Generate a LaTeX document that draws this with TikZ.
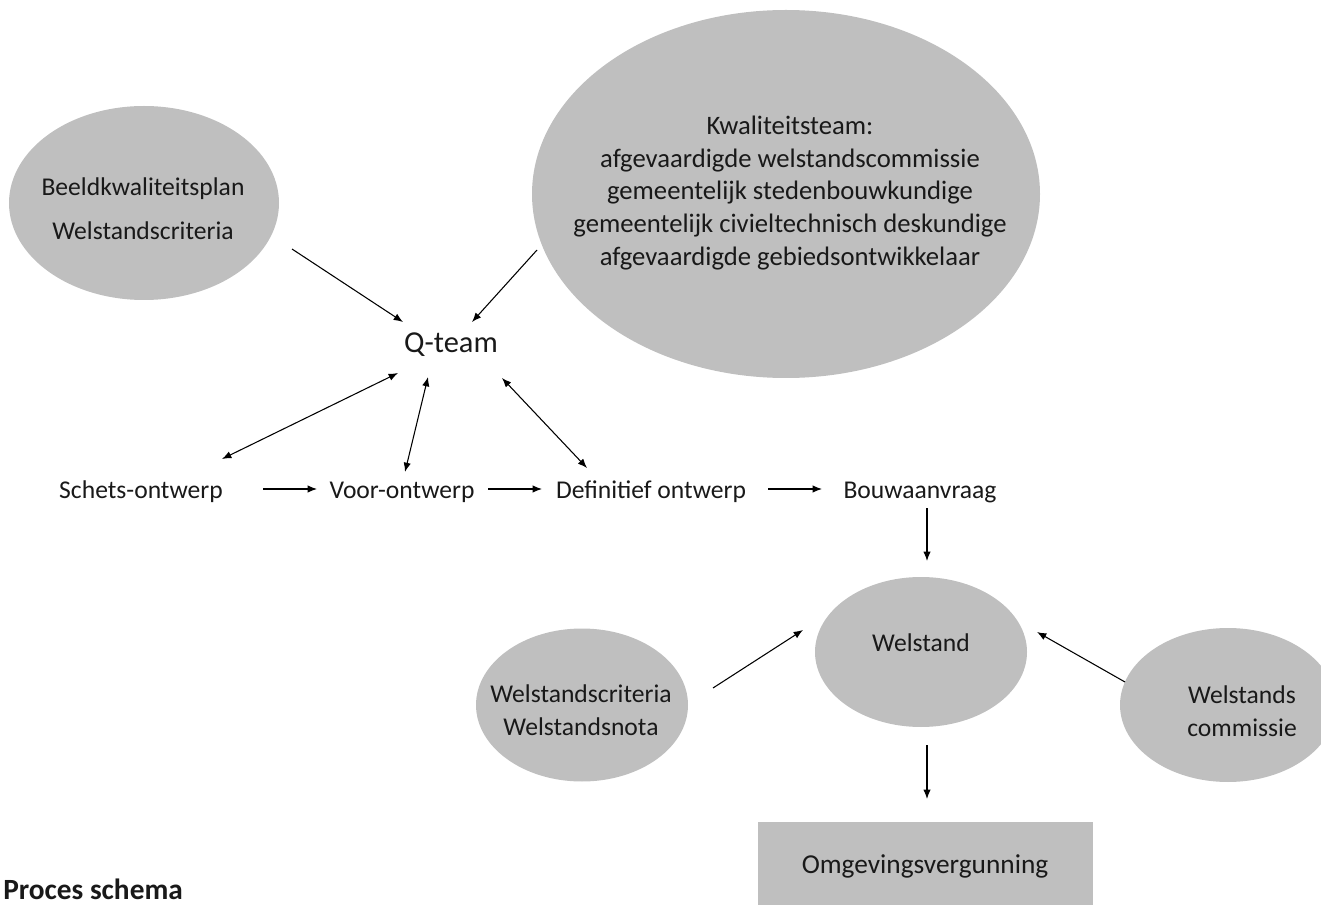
\documentclass[tikz,border=0pt]{standalone}
\usepackage{fontspec}
\setmainfont{Carlito}
\usetikzlibrary{shapes.geometric,arrows.meta}
\definecolor{fillg}{RGB}{191,191,191}
\definecolor{txt}{RGB}{25,25,25}
\begin{document}
\begin{tikzpicture}[x=0.75pt,y=-0.75pt,
  blob/.style={ellipse,fill=fillg,draw=none,inner sep=0pt},
  lbl/.style={inner sep=0pt,text=txt,font=\fontsize{19.2}{24.4}\selectfont,align=center},
  conn/.style={line width=0.8pt,-{Latex[length=7pt,width=5.5pt]}},
  biconn/.style={line width=0.8pt,{Latex[length=7pt,width=5.5pt]}-{Latex[length=7pt,width=5.5pt]}}]
\useasboundingbox (0,0) rectangle (1321,905);
\begin{scope}
\clip (0,0) rectangle (1321,905);
% shapes
\node[blob,minimum width=270pt*0.75,minimum height=194pt*0.75] (bk) at (144,203) {};
\node[blob,minimum width=508pt*0.75,minimum height=368pt*0.75] (kt) at (786,194) {};
\node[blob,minimum width=212pt*0.75,minimum height=150pt*0.75] (wel) at (921,652) {};
\node[blob,minimum width=212pt*0.75,minimum height=153pt*0.75] (wn) at (582,705) {};
\node[blob,minimum width=216pt*0.75,minimum height=154pt*0.75] (wc) at (1228,705) {};
\node[fill=fillg,inner sep=0pt,minimum width=335pt*0.75,minimum height=100pt*0.75] (omg) at (925.5,872) {};
\end{scope}
% texts
\node[lbl] (bkt) at (143,209) {Beeldkwaliteitsplan\\[0.45em]Welstandscriteria};
\node[lbl,font=\fontsize{20}{24.4}\selectfont] (ktt) at (790,193) {Kwaliteitsteam:\\afgevaardigde welstandscommissie\\gemeentelijk stedenbouwkundige\\gemeentelijk civieltechnisch deskundige\\afgevaardigde gebiedsontwikkelaar};
\node[lbl,font=\fontsize{22.8}{28}\selectfont] (q) at (451,345) {Q-team};
\node[lbl] (so) at (141,492) {Schets-ontwerp};
\node[lbl] (vo) at (402,492) {Voor-ontwerp};
\node[lbl] (do) at (651,492) {Definitief ontwerp};
\node[lbl] (ba) at (920,492) {Bouwaanvraag};
\node[lbl] (welt) at (921,643) {Welstand};
\node[lbl] (wnt) at (581,710) {Welstandscriteria\\Welstandsnota};
\node[lbl] (wct) at (1242,711) {Welstands\\commissie};
\node[lbl,font=\fontsize{20.5}{24}\selectfont] (omgt) at (925,866) {Omgevingsvergunning};
\node[inner sep=0pt,anchor=west,text=txt,font=\fontsize{22}{24}\selectfont\bfseries] (ps) at (3,889) {Proces schema};
% connector end points
\coordinate (a1) at (292,249); \coordinate (a2) at (403,322);
\coordinate (b1) at (537,250); \coordinate (b2) at (472,322);
\coordinate (c1) at (398,373); \coordinate (c2) at (222,459);
\coordinate (d1) at (428,377); \coordinate (d2) at (405,472);
\coordinate (e1) at (502,378); \coordinate (e2) at (587,468);
\coordinate (h1) at (263,489); \coordinate (h2) at (317,489);
\coordinate (i1) at (488,489); \coordinate (i2) at (542,489);
\coordinate (j1) at (768,489); \coordinate (j2) at (822,489);
\coordinate (k1) at (927,508); \coordinate (k2) at (927,561);
\coordinate (l1) at (927,745); \coordinate (l2) at (927,799);
\coordinate (m1) at (713,688); \coordinate (m2) at (803,630);
\coordinate (n1) at (1125,682); \coordinate (n2) at (1037,632);
\draw[conn] (a1) -- (a2);
\draw[conn] (b1) -- (b2);
\draw[biconn] (c1) -- (c2);
\draw[biconn] (d1) -- (d2);
\draw[biconn] (e1) -- (e2);
\draw[conn] (h1) -- (h2);
\draw[conn] (i1) -- (i2);
\draw[conn] (j1) -- (j2);
\draw[conn] (k1) -- (k2);
\draw[conn] (l1) -- (l2);
\draw[conn] (m1) -- (m2);
\draw[conn] (n1) -- (n2);
\end{tikzpicture}
\end{document}
